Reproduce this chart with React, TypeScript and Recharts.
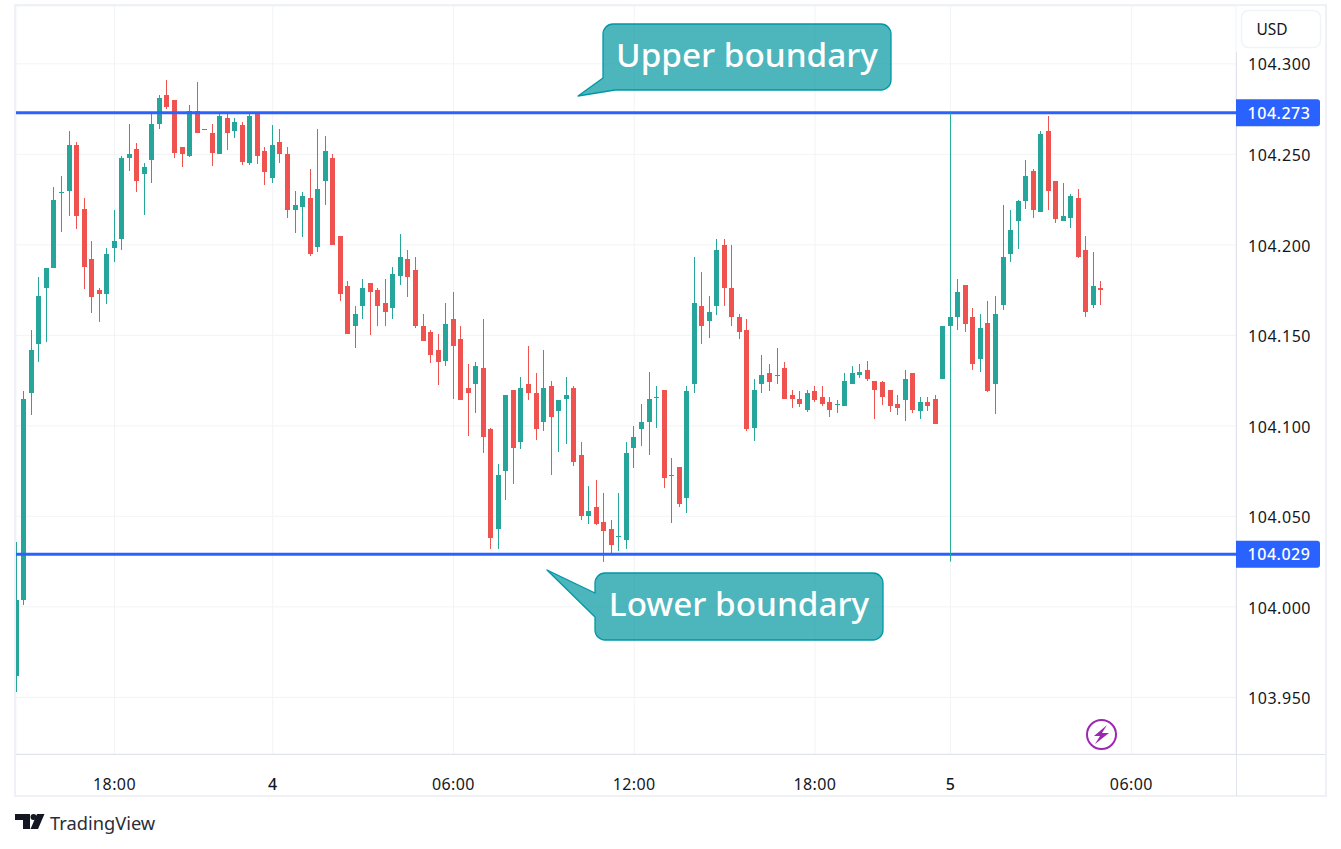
import React from 'react';
import { Bar, CartesianGrid, ComposedChart, ReferenceLine, XAxis, YAxis } from 'recharts';

// 15 minute candles (10 per line)
const opens = [
  103.962, 104.004, 104.118, 104.145, 104.176, 104.187, 104.229, 104.230, 104.255, 104.220,
  104.192, 104.175, 104.173, 104.198, 104.203, 104.248, 104.253, 104.239, 104.247, 104.267,
  104.283, 104.280, 104.254, 104.249, 104.274, 104.264, 104.262, 104.250, 104.270, 104.263,
  104.266, 104.245, 104.273, 104.252, 104.237, 104.257, 104.250, 104.219, 104.221, 104.226,
  104.199, 104.235, 104.248, 104.205, 104.177, 104.155, 104.166, 104.179, 104.175, 104.168,
  104.165, 104.183, 104.192, 104.186, 104.155, 104.152, 104.142, 104.136, 104.159, 104.148,
  104.121, 104.123, 104.132, 104.098, 104.043, 104.075, 104.120, 104.091, 104.123, 104.118,
  104.102, 104.122, 104.108, 104.115, 104.121, 104.084, 104.050, 104.055, 104.047, 104.043,
  104.039, 104.037, 104.088, 104.098, 104.102, 104.116, 104.120, 104.073, 104.077, 104.060,
  104.123, 104.166, 104.158, 104.166, 104.200, 104.176, 104.160, 104.153, 104.099, 104.123,
  104.129, 104.128, 104.132, 104.117, 104.115, 104.109, 104.119, 104.116, 104.113, 104.112,
  104.111, 104.123, 104.128, 104.131, 104.125, 104.124, 104.120, 104.112, 104.114, 104.129,
  104.108, 104.113, 104.115, 104.126, 104.155, 104.160, 104.178, 104.160, 104.137, 104.157,
  104.123, 104.167, 104.195, 104.213, 104.224, 104.241, 104.218, 104.263, 104.235, 104.213,
  104.215, 104.226, 104.197, 104.167, 104.176,
];
const highs = [
  104.036, 104.119, 104.153, 104.182, 104.187, 104.232, 104.238, 104.263, 104.257, 104.226,
  104.202, 104.176, 104.198, 104.219, 104.249, 104.267, 104.256, 104.245, 104.272, 104.283,
  104.291, 104.280, 104.254, 104.277, 104.290, 104.264, 104.267, 104.272, 104.272, 104.270,
  104.268, 104.272, 104.273, 104.254, 104.266, 104.264, 104.254, 104.230, 104.229, 104.242,
  104.264, 104.260, 104.250, 104.205, 104.180, 104.166, 104.181, 104.179, 104.176, 104.181,
  104.188, 104.206, 104.197, 104.193, 104.162, 104.153, 104.151, 104.168, 104.174, 104.155,
  104.134, 104.135, 104.159, 104.099, 104.079, 104.117, 104.120, 104.127, 104.144, 104.129,
  104.142, 104.125, 104.114, 104.127, 104.122, 104.091, 104.067, 104.070, 104.063, 104.048,
  104.063, 104.091, 104.100, 104.112, 104.130, 104.122, 104.120, 104.082, 104.077, 104.122,
  104.193, 104.185, 104.172, 104.203, 104.203, 104.200, 104.162, 104.159, 104.126, 104.139,
  104.134, 104.143, 104.135, 104.120, 104.119, 104.120, 104.122, 104.122, 104.116, 104.114,
  104.129, 104.133, 104.134, 104.136, 104.125, 104.125, 104.120, 104.117, 104.131, 104.129,
  104.116, 104.116, 104.117, 104.155, 104.160, 104.181, 104.178, 104.165, 104.162, 104.169,
  104.172, 104.222, 104.219, 104.225, 104.247, 104.242, 104.263, 104.271, 104.235, 104.234,
  104.228, 104.231, 104.205, 104.196, 104.180,
];
const lows = [
  103.953, 104.001, 104.106, 104.135, 104.146, 104.187, 104.207, 104.216, 104.209, 104.176,
  104.162, 104.157, 104.167, 104.190, 104.197, 104.241, 104.229, 104.216, 104.234, 104.264,
  104.275, 104.248, 104.243, 104.248, 104.262, 104.264, 104.244, 104.250, 104.252, 104.259,
  104.244, 104.244, 104.245, 104.233, 104.234, 104.245, 104.215, 104.207, 104.204, 104.194,
  104.196, 104.222, 104.200, 104.169, 104.151, 104.143, 104.159, 104.150, 104.155, 104.155,
  104.159, 104.178, 104.171, 104.154, 104.147, 104.135, 104.123, 104.133, 104.115, 104.114,
  104.094, 104.107, 104.085, 104.032, 104.032, 104.059, 104.068, 104.087, 104.114, 104.092,
  104.097, 104.073, 104.085, 104.090, 104.078, 104.048, 104.046, 104.045, 104.025, 104.030,
  104.031, 104.032, 104.077, 104.089, 104.084, 104.099, 104.066, 104.046, 104.055, 104.052,
  104.118, 104.145, 104.149, 104.161, 104.166, 104.155, 104.148, 104.097, 104.092, 104.118,
  104.119, 104.123, 104.115, 104.110, 104.110, 104.108, 104.113, 104.111, 104.105, 104.107,
  104.111, 104.123, 104.126, 104.125, 104.104, 104.112, 104.108, 104.106, 104.103, 104.107,
  104.104, 104.108, 104.101, 104.126, 104.155, 104.153, 104.152, 104.131, 104.130, 104.119,
  104.107, 104.164, 104.190, 104.198, 104.220, 104.215, 104.218, 104.219, 104.212, 104.213,
  104.209, 104.193, 104.160, 104.165, 104.167,
];
const closes = [
  104.004, 104.115, 104.142, 104.172, 104.187, 104.225, 104.229, 104.255, 104.216, 104.188,
  104.171, 104.173, 104.195, 104.202, 104.248, 104.250, 104.235, 104.243, 104.267, 104.281,
  104.276, 104.251, 104.250, 104.274, 104.262, 104.264, 104.251, 104.271, 104.262, 104.268,
  104.246, 104.271, 104.249, 104.240, 104.255, 104.250, 104.219, 104.222, 104.227, 104.195,
  104.231, 104.252, 104.200, 104.173, 104.151, 104.162, 104.176, 104.174, 104.166, 104.163,
  104.184, 104.193, 104.182, 104.155, 104.147, 104.139, 104.135, 104.156, 104.144, 104.114,
  104.118, 104.133, 104.094, 104.038, 104.073, 104.117, 104.088, 104.121, 104.118, 104.098,
  104.121, 104.105, 104.114, 104.117, 104.080, 104.050, 104.053, 104.046, 104.042, 104.034,
  104.039, 104.085, 104.094, 104.102, 104.115, 104.116, 104.071, 104.073, 104.057, 104.119,
  104.168, 104.155, 104.163, 104.197, 104.176, 104.160, 104.152, 104.098, 104.120, 104.128,
  104.124, 104.128, 104.115, 104.115, 104.112, 104.118, 104.114, 104.112, 104.109, 104.112,
  104.125, 104.129, 104.130, 104.126, 104.120, 104.116, 104.111, 104.110, 104.126, 104.109,
  104.113, 104.111, 104.101, 104.155, 104.160, 104.174, 104.156, 104.134, 104.154, 104.119,
  104.162, 104.193, 104.208, 104.224, 104.238, 104.219, 104.261, 104.230, 104.214, 104.216,
  104.227, 104.193, 104.163, 104.177, 104.175,
];

const priceTicks = [103.95, 104, 104.05, 104.1, 104.15, 104.2, 104.25, 104.3];
const timeTickBars = [13, 34, 58, 82, 106, 124, 148];
const timeTickLabels = ['18:00', '4', '06:00', '12:00', '18:00', '5', '06:00'];

const upperBoundary = 104.273;
const lowerBoundary = 104.029;
const markerBar = 124;
const markerLow = 104.025;

const candles = opens.map((open, i) => ({
  bar: i,
  open,
  close: closes[i],
  high: highs[i],
  low: lows[i],
  range: [lows[i], highs[i]],
}));

const UP = '#26a69a';
const DOWN = '#ef5350';
const BLUE = '#2962ff';
const TEXT = '#131722';
const FONT = '"Noto Sans", sans-serif';

function Candle(props: any) {
  const { x, y, width, height, payload } = props;
  const { open, close, high, low } = payload;
  const color = close < open ? DOWN : UP;
  const perPrice = high > low ? height / (high - low) : 0;
  const bodyTop = Math.round(y + (high - Math.max(open, close)) * perPrice);
  const bodyBottom = Math.round(y + (high - Math.min(open, close)) * perPrice);
  const left = Math.round(x);
  return (
    <g shapeRendering="crispEdges">
      <rect x={left + 2} y={Math.round(y)} width={1} height={Math.max(Math.round(height), 1)} fill={color} />
      <rect x={left} y={bodyTop} width={width} height={Math.max(bodyBottom - bodyTop, 1)} fill={color} />
    </g>
  );
}

function PriceTag(props: any) {
  const { viewBox, value } = props;
  const left = viewBox.x + viewBox.width;
  const mid = viewBox.y;
  return (
    <g>
      <path
        d={`M${left} ${mid - 13.5} h81 a3 3 0 0 1 3 3 v21 a3 3 0 0 1 -3 3 h-81 z`}
        fill={BLUE}
      />
      <text
        x={left + 43}
        y={mid + 6}
        textAnchor="middle"
        fontSize={16}
        fontWeight={500}
        letterSpacing={0.5}
        fill="#fff"
        fontFamily={FONT}
      >
        {value.toFixed(3)}
      </text>
    </g>
  );
}

function TimeTick(props: any) {
  const { x, y, payload } = props;
  const label = timeTickLabels[timeTickBars.indexOf(payload.value)];
  return (
    <text
      x={x}
      y={y + 28}
      textAnchor="middle"
      fontSize={16}
      fontWeight={label.length === 1 ? 500 : 400}
      letterSpacing={0.4}
      fill={TEXT}
      fontFamily={FONT}
    >
      {label}
    </text>
  );
}

function Callout({ d, x, y, text }: { d: string; x: number; y: number; text: string }) {
  return (
    <g>
      <path d={d} fill="#00979f" fillOpacity={0.7} stroke="#0097a7" strokeWidth={1.3} strokeLinejoin="round" />
      <text x={x} y={y} textAnchor="middle" fontSize={33.3} fontWeight={500} fill="#fff" fontFamily={FONT}>
        {text}
      </text>
    </g>
  );
}

export default function App() {
  return (
    <div style={{ position: 'absolute', left: 0, top: 0, width: 1341, height: 849, background: '#fff' }}>
      <ComposedChart
        width={1341}
        height={849}
        data={candles}
        margin={{ top: 6, right: 16, bottom: 53, left: 16 }}
        barSize={5}
      >
        <CartesianGrid stroke="#f2f3f5" strokeWidth={1} />
        <XAxis
          dataKey="bar"
          type="number"
          domain={[-0.08, 161.9]}
          allowDataOverflow
          ticks={timeTickBars}
          interval={0}
          height={42}
          axisLine={false}
          tickLine={false}
          tick={<TimeTick />}
        />
        <YAxis
          orientation="right"
          type="number"
          domain={[103.9187, 104.33194]}
          allowDataOverflow
          ticks={priceTicks}
          interval={0}
          width={89}
          axisLine={false}
          tickLine={false}
          tickMargin={6}
          tickFormatter={(v: number) => v.toFixed(3)}
          tick={{ fontSize: 16, fill: TEXT, fontFamily: FONT, textAnchor: 'start', letterSpacing: 0.55, dy: 1 }}
        />
        <Bar dataKey="range" shape={<Candle />} isAnimationActive={false} />
        <ReferenceLine
          y={upperBoundary}
          stroke={BLUE}
          strokeWidth={3}
          label={<PriceTag value={upperBoundary} />}
        />
        <ReferenceLine
          y={lowerBoundary}
          stroke={BLUE}
          strokeWidth={3}
          label={<PriceTag value={lowerBoundary} />}
        />
        <ReferenceLine
          segment={[
            { x: markerBar, y: upperBoundary },
            { x: markerBar, y: markerLow },
          ]}
          stroke="#22ab94"
          strokeWidth={1}
        />

        {/* pane frame and separators */}
        <rect x={15} y={5} width={1311} height={791} fill="none" stroke="#f0f1f6" strokeWidth={2} />
        <line x1={1236.5} y1={52} x2={1236.5} y2={796} stroke="#e0e3eb" strokeWidth={1} />
        <line x1={16} y1={754.5} x2={1325} y2={754.5} stroke="#e0e3eb" strokeWidth={1} />

        {/* currency button */}
        <rect x={1241.5} y={10.5} width={79} height={37} rx={7} fill="#fff" stroke="#f0f3fa" strokeWidth={1.5} />
        <text x={1272} y={35} textAnchor="middle" fontSize={15.5} fill={TEXT} fontFamily={FONT}>
          USD
        </text>

        <Callout
          d="M613 24 H881 A10 10 0 0 1 891 34 V80 A10 10 0 0 1 881 90 H615 L578 96 L603 78 V34 A10 10 0 0 1 613 24 Z"
          x={747}
          y={67}
          text="Upper boundary"
        />
        <Callout
          d="M605 573 H873 A10 10 0 0 1 883 583 V630 A10 10 0 0 1 873 640 H605 A10 10 0 0 1 595 630 V617 L547 570 L595 593 V583 A10 10 0 0 1 605 573 Z"
          x={739}
          y={616}
          text="Lower boundary"
        />

        {/* lightning mark */}
        <circle cx={1101.5} cy={734.5} r={14.5} fill="none" stroke="#9c27b0" strokeWidth={2} />
        <path d="M1107 725 L1094 736 H1100 L1095 744 L1109 733 H1102 Z" fill="#9c27b0" />

        {/* logo */}
        <path d="M15 814 H30 V829 H23 V820 H15 Z" fill={TEXT} />
        <circle cx={33.5} cy={817} r={3} fill={TEXT} />
        <path d="M37 814 H44.5 L38 829 H30.5 Z" fill={TEXT} />
        <text x={50} y={830} fontSize={18.3} fill="#2a2e39" fontFamily={FONT}>
          TradingView
        </text>
      </ComposedChart>
    </div>
  );
}
